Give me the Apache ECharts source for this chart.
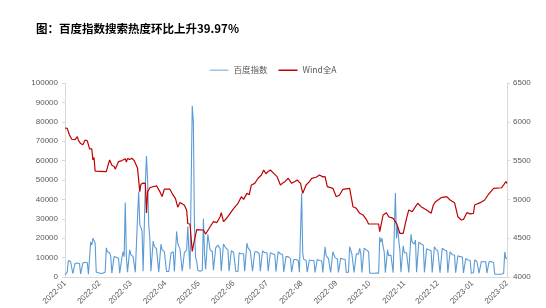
<!DOCTYPE html>
<html>
<head>
<meta charset="utf-8">
<script src="https://cdn.jsdelivr.net/npm/echarts@6/dist/echarts.min.js"></script>
<style>
html,body{margin:0;padding:0;background:#fff;}
#c{width:546px;height:308px;}
</style>
</head>
<body>
<div id="c"></div>
<script>
const titleText = '图：百度指数搜索热度环比上升39.97%';
const seriesNames = ['百度指数', 'Wind全A'];
const tickLabels = ['2022-01','2022-02','2022-03','2022-04','2022-05','2022-06','2022-07','2022-08','2022-09','2022-10','2022-11','2022-12','2023-01','2023-02'];
const leftTicks = [0,10000,20000,30000,40000,50000,60000,70000,80000,90000,100000];
const rightTicks = [4000,4500,5000,5500,6000,6500];

// 百度指数: daily values from 2022-01-01 (each row Sat..Fri)
const baiduStart = '2022-01-01';
const baiduValues = [
 1200,1000,2500,8500,9000,8000,7800,
 1800,1700,7000,7400,7200,7500,7000,
 1600,1600,7200,7000,7600,7400,7300,
 1500,1500,18000,16500,20000,19500,17500,
 2500,2400,2200,2000,1800,1800,2000,
 2200,2500,15000,13000,12000,12500,10500,
 2000,2000,10500,10800,10200,10000,9500,
 2000,2100,10000,13000,10500,38400,10000,
 2500,2500,14000,11500,10500,10500,10000,
 2500,2600,31000,44000,27000,26000,24000,
 3000,3000,48000,62400,50000,27000,20000,
 3000,3000,18500,15800,15000,14500,13500,
 2500,2500,17000,14000,13500,13200,13000,
 2800,2800,2800,3000,12500,13200,13000,
 2800,2800,23500,17500,15800,14500,13500,
 3000,3000,12700,13000,14000,26000,14000,
 4000,5000,88300,80000,25000,10000,8000,
 3500,3200,3000,3200,3500,30000,12000,
 4000,3800,22000,18000,14000,13000,13000,
 3500,3200,15000,14000,16500,15500,14500,
 3000,3000,17000,16000,15000,14500,14000,
 3000,2800,13500,13000,12800,12500,3000,
 2800,2800,12500,12500,12000,12800,12000,
 3000,2800,17500,15000,14000,13500,13000,
 3000,2800,13000,12500,13000,12500,12000,
 3000,2800,13500,13000,12500,12000,12500,
 3000,2800,12500,12000,12000,11500,11500,
 2800,2600,13000,12500,12000,12000,11500,
 2600,2500,10500,10000,10500,10000,9500,
 2500,2400,9000,8800,9000,8800,8500,
 2500,2400,43100,12000,9000,8800,8500,
 2500,2400,8800,9000,8500,8800,8500,
 2400,2300,9000,8800,8500,8600,8400,
 2400,2300,15600,11000,10000,9500,9200,
 2400,2300,13000,11300,10000,9500,9300,
 2400,2300,9600,9500,9300,9200,9000,
 2400,2300,2500,15600,16500,12000,11500,
 2400,2300,12000,12000,11800,14800,12200,
 2300,2200,14800,14500,14000,13500,13000,
 2000,1900,1900,1900,1900,1900,2000,
 2000,2000,20500,18000,20000,15600,13000,
 2200,2200,14000,11000,10500,11300,10500,
 2200,2500,43300,20000,26000,19000,14000,
 2500,2400,16000,12500,12000,12500,11800,
 2400,2400,22000,18000,17500,17000,19000,
 2500,2400,18000,17500,17000,17300,16500,
 2400,2300,14500,14000,14000,13800,13500,
 2300,2300,15600,14500,13900,13500,13000,
 2200,2200,14800,14000,13900,13900,13500,
 2200,2200,13000,12000,11500,11500,11300,
 2200,2100,11000,10500,10500,10500,10300,
 2100,2000,9500,9000,8800,8800,8600,
 2000,2000,2200,8800,8000,8000,7900,
 2000,2000,8000,7900,7900,7800,7800,
 2000,2000,8000,7900,7900,7800,7500,
 1500,1400,1400,1400,1400,1400,1500,
 1600,1800,13000,9600,9600
];

// Wind全A: points
const windA = [
 ['2022-01-01',5920],['2022-01-03',5915],['2022-01-05',5830],['2022-01-07',5775],['2022-01-10',5770],['2022-01-12',5810],['2022-01-13',5760],['2022-01-15',5720],['2022-01-17',5705],['2022-01-19',5765],['2022-01-21',5755],['2022-01-23',5650],['2022-01-25',5650],['2022-01-26',5510],['2022-01-27',5540],['2022-01-28',5365],
 ['2022-02-07',5357],['2022-02-09',5462],['2022-02-10',5508],['2022-02-12',5440],['2022-02-14',5425],['2022-02-15',5390],['2022-02-18',5487],['2022-02-21',5500],['2022-02-24',5525],['2022-02-25',5480],['2022-02-26',5525],['2022-02-28',5515],
 ['2022-03-02',5530],['2022-03-04',5500],['2022-03-07',5400],['2022-03-09',5100],['2022-03-10',5195],['2022-03-12',5210],['2022-03-14',5207],['2022-03-15',4825],['2022-03-16',5100],['2022-03-18',5150],['2022-03-20',5160],['2022-03-24',5175],['2022-03-27',5100],['2022-03-29',5037],['2022-03-31',5132],
 ['2022-04-05',5132],['2022-04-07',5075],['2022-04-10',5010],['2022-04-12',4900],['2022-04-14',4960],['2022-04-18',4925],['2022-04-20',4860],['2022-04-21',4690],['2022-04-23',4680],['2022-04-25',4330],['2022-04-27',4480],['2022-04-29',4610],
 ['2022-05-05',4606],['2022-05-07',4554],['2022-05-11',4648],['2022-05-14',4713],['2022-05-17',4700],['2022-05-20',4777],['2022-05-21',4829],['2022-05-23',4713],['2022-05-26',4760],['2022-05-29',4821],
 ['2022-06-01',4880],['2022-06-05',4950],['2022-06-08',5035],['2022-06-10',5000],['2022-06-13',5078],['2022-06-15',5060],['2022-06-17',5186],['2022-06-20',5207],['2022-06-23',5272],['2022-06-26',5314],['2022-06-28',5379],['2022-06-30',5330],
 ['2022-07-02',5360],['2022-07-04',5379],['2022-07-07',5336],['2022-07-10',5293],['2022-07-13',5186],['2022-07-15',5210],['2022-07-17',5229],['2022-07-20',5272],['2022-07-23',5207],['2022-07-26',5230],['2022-07-28',5250],['2022-07-31',5207],
 ['2022-08-02',5078],['2022-08-05',5186],['2022-08-08',5230],['2022-08-10',5272],['2022-08-14',5285],['2022-08-17',5314],['2022-08-20',5290],['2022-08-22',5293],['2022-08-24',5164],['2022-08-29',5143],
 ['2022-09-01',5035],['2022-09-04',5056],['2022-09-07',5130],['2022-09-13',5143],['2022-09-16',4906],['2022-09-19',4885],['2022-09-22',4821],['2022-09-25',4800],['2022-09-28',4740],['2022-09-30',4683],
 ['2022-10-09',4683],['2022-10-10',4584],['2022-10-13',4799],['2022-10-16',4829],['2022-10-18',4777],['2022-10-22',4756],['2022-10-25',4692],['2022-10-26',4710],['2022-10-28',4563],['2022-10-31',4563],
 ['2022-11-03',4756],['2022-11-05',4864],['2022-11-08',4842],['2022-11-10',4885],['2022-11-13',4950],['2022-11-16',4906],['2022-11-21',4864],['2022-11-25',4821],['2022-11-27',4928],['2022-11-29',4971],
 ['2022-12-04',5022],['2022-12-09',5035],['2022-12-12',4992],['2022-12-16',4958],['2022-12-19',4777],['2022-12-22',4735],['2022-12-24',4742],['2022-12-27',4829],['2022-12-30',4814],
 ['2023-01-02',4821],['2023-01-03',4928],['2023-01-08',4958],['2023-01-12',4992],['2023-01-15',5057],['2023-01-20',5143],['2023-01-27',5150],['2023-01-29',5186],['2023-01-31',5229],['2023-02-01',5207]
];

function parseDay(s){ const p = s.split('-').map(Number); return new Date(p[0], p[1]-1, p[2] || 1).getTime(); }
const startParts = baiduStart.split('-').map(Number);
const baiduData = baiduValues.map((v, i) => [new Date(startParts[0], startParts[1]-1, startParts[2] + i).getTime(), v]);
const windData = windA.map(d => [parseDay(d[0]), d[1]]);
const tickTimes = tickLabels.map(parseDay);

const labelStyle = { color: '#595959', fontSize: 8, fontFamily: 'Liberation Sans, Arial, sans-serif' };
const axisGrey = '#d9d9d9';
const plain = v => String(v);

const chart = echarts.init(document.getElementById('c'), null, { renderer: 'canvas' });
chart.setOption({
  animation: false,
  backgroundColor: '#ffffff',
  title: {
    text: titleText,
    left: 31, top: 18,
    textStyle: { fontSize: 11.5, fontWeight: 'bold', color: '#000', fontFamily: 'Noto Sans CJK SC, sans-serif' }
  },
  legend: {
    data: seriesNames,
    left: 'center', top: 61,
    icon: 'rect',
    itemWidth: 19, itemHeight: 1.5, itemGap: 11,
    textStyle: { color: '#595959', fontSize: 8.5, fontFamily: 'Noto Sans CJK SC, sans-serif' }
  },
  grid: { left: 65, right: 39, top: 83, bottom: 31, containLabel: false },
  xAxis: {
    type: 'value',
    min: tickTimes[0], max: tickTimes[tickTimes.length - 1],
    axisLine: { show: true, onZero: false, lineStyle: { color: axisGrey, width: 1 } },
    axisTick: { show: false },
    splitLine: { show: false },
    axisLabel: Object.assign({}, labelStyle, {
      rotate: 45, margin: 5,
      customValues: tickTimes,
      formatter: function (v) { const i = tickTimes.indexOf(v); return i >= 0 ? tickLabels[i] : ''; }
    })
  },
  yAxis: [
    {
      type: 'value', min: leftTicks[0], max: leftTicks[leftTicks.length - 1], interval: 10000,
      axisLine: { show: true, lineStyle: { color: axisGrey } },
      axisTick: { show: true, length: 3, lineStyle: { color: axisGrey } },
      splitLine: { show: false },
      axisLabel: Object.assign({}, labelStyle, { margin: 7, formatter: plain })
    },
    {
      type: 'value', min: rightTicks[0], max: rightTicks[rightTicks.length - 1], interval: 500,
      position: 'right',
      axisLine: { show: true, lineStyle: { color: axisGrey } },
      axisTick: { show: true, length: 3, lineStyle: { color: axisGrey } },
      splitLine: { show: false },
      axisLabel: Object.assign({}, labelStyle, { margin: 6, formatter: plain })
    }
  ],
  series: [
    {
      name: seriesNames[0], type: 'line', yAxisIndex: 0, data: baiduData,
      symbol: 'none', smooth: false,
      lineStyle: { color: '#5B9BD5', width: 1.1 }, itemStyle: { color: '#9DC3E6' }, z: 2
    },
    {
      name: seriesNames[1], type: 'line', yAxisIndex: 1, data: windData,
      symbol: 'none', smooth: false,
      lineStyle: { color: '#C00000', width: 1.2 }, itemStyle: { color: '#C00000' }, z: 3
    }
  ]
});
</script>
</body>
</html>
